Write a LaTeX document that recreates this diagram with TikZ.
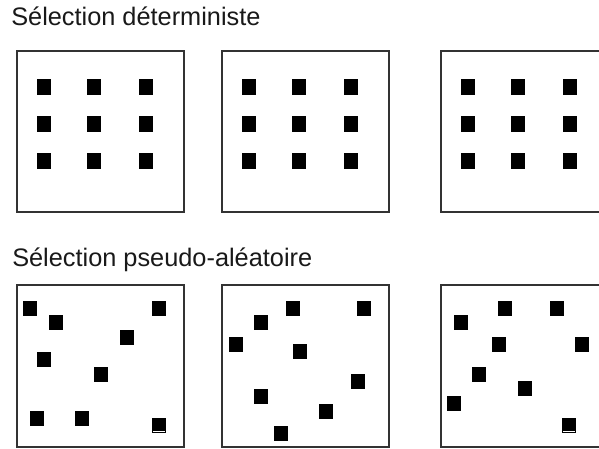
\documentclass[tikz,border=0pt]{standalone}
\usepackage{fontspec}
\setmainfont{Liberation Sans}
\begin{document}
\begin{tikzpicture}[x=0.75pt,y=-0.75pt,
  frame/.style={draw=black!80, line width=0.8pt, fill=white, inner sep=0, minimum width=125.25pt},
  toprow/.style={frame, minimum height=120.75pt},
  botrow/.style={frame, minimum height=121.5pt},
  sq/.style={fill=black, draw=none, inner sep=0, minimum width=10.5pt, minimum height=12pt},
  rsq/.style={fill=black, draw=none, inner sep=0, minimum width=10.5pt, minimum height=11.25pt},
  title/.style={anchor=base west, inner sep=0, font=\fontsize{19}{22}\selectfont, text=black!90}]
\useasboundingbox (0,0) rectangle (599,449);
\clip (0,0) rectangle (599,449);
\fill[white] (0,0) rectangle (599,449);
\node[title] (t1) at (11,26) {Sélection déterministe};
\node[title] (t2) at (12,266) {Sélection pseudo-aléatoire};
% top row boxes
\node[toprow] (b1) at (100.5,131.5) {};
\node[toprow] (b2) at (305.5,131.5) {};
\node[toprow] (b3) at (524.5,131.5) {};
\foreach \ox/\b in {0/a,205/b,424/c}{
  \foreach \cx [count=\i] in {43.5,94,145.5}{
    \foreach \cy [count=\j] in {87,124,161}{
      \node[sq] (d\b\i\j) at (\cx+\ox,\cy) {};
    }
  }
}
% bottom row boxes
\node[botrow] (r1) at (100.5,366) {};
\node[botrow] (r2) at (305.5,366) {};
\node[botrow] (r3) at (524.5,366) {};
\foreach \px/\py [count=\k] in {30/308,56/322.5,159/308,126.5/337,43.5/359,101/374,37/418,81.5/418,159/425.5}{
  \node[rsq] (pa\k) at (\px,\py) {};
}
\foreach \px/\py [count=\k] in {235.5/344.5,261/322.5,293/308,261/396.5,280.5/433,300/351.5,364/308,357.5/381.5,325.5/411}{
  \node[rsq] (pb\k) at (\px,\py) {};
}
\foreach \px/\py [count=\k] in {460.5/322.5,505/308,556.5/308,499/344.5,582/344.5,479/374,524.5/388.5,453.5/403,569/425.5}{
  \node[rsq] (pc\k) at (\px,\py) {};
}
\draw[white, line width=0.6pt] (153,431.5) -- (165,431.5);
\draw[white, line width=0.6pt] (563,431.5) -- (575,431.5);
\end{tikzpicture}
\end{document}
